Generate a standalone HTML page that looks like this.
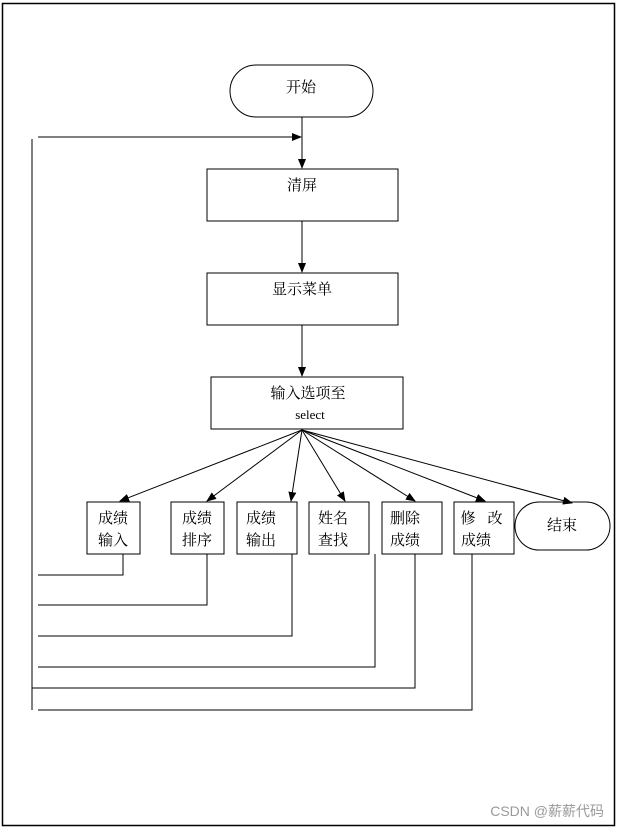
<!DOCTYPE html>
<html><head><meta charset="utf-8"><style>
html,body{margin:0;padding:0;background:#fff;}
svg text{font-family:"Liberation Serif","Noto Serif CJK SC","Noto Sans CJK SC",serif;font-size:15px;fill:#000;}
</style></head><body>
<svg width="618" height="829" xmlns="http://www.w3.org/2000/svg">
<defs><marker id="a" markerWidth="10" markerHeight="8" refX="9" refY="4" orient="auto" markerUnits="userSpaceOnUse"><path d="M0,0 L10,4 L0,8 z" fill="#000"/></marker></defs>
<rect x="2.5" y="3.5" width="612" height="822" fill="none" stroke="#000" stroke-width="1.5"/>
<g stroke="#000" stroke-width="1" fill="none">
<rect x="230" y="65" width="143" height="52" rx="26"/>
<rect x="207" y="169" width="191" height="52"/>
<rect x="207" y="273" width="191" height="52"/>
<rect x="211" y="377" width="192" height="52"/>
<rect x="87" y="502" width="53" height="52"/>
<rect x="171" y="502" width="53" height="52"/>
<rect x="237" y="502" width="60" height="52"/>
<rect x="309" y="502" width="60" height="52"/>
<rect x="382" y="502" width="60" height="52"/>
<rect x="454" y="502" width="60" height="52"/>
<rect x="515" y="502" width="95" height="48" rx="24"/>
<line x1="302" y1="117" x2="302" y2="168" marker-end="url(#a)"/>
<line x1="38" y1="137" x2="301" y2="137" marker-end="url(#a)"/>
<line x1="302" y1="221" x2="302" y2="272" marker-end="url(#a)"/>
<line x1="302" y1="325" x2="302" y2="376" marker-end="url(#a)"/>
<line x1="302" y1="430" x2="120" y2="501" marker-end="url(#a)"/>
<line x1="302" y1="430" x2="207" y2="501" marker-end="url(#a)"/>
<line x1="302" y1="430" x2="291" y2="501" marker-end="url(#a)"/>
<line x1="302" y1="430" x2="345" y2="501" marker-end="url(#a)"/>
<line x1="302" y1="430" x2="415" y2="501" marker-end="url(#a)"/>
<line x1="302" y1="430" x2="485" y2="501" marker-end="url(#a)"/>
<line x1="302" y1="430" x2="572" y2="503" marker-end="url(#a)"/>
<line x1="32" y1="139" x2="32" y2="710"/>
<polyline points="123,554 123,575 38,575"/>
<polyline points="207,554 207,605 38,605"/>
<polyline points="292,554 292,636 38,636"/>
<polyline points="375,554 375,667 38,667"/>
<polyline points="415,554 415,688 32,688"/>
<polyline points="472,554 472,710 38,710"/>
</g>
<text x="301" y="92" text-anchor="middle">开始</text>
<text x="302" y="190" text-anchor="middle">清屏</text>
<text x="302" y="294" text-anchor="middle">显示菜单</text>
<text x="308" y="398" text-anchor="middle">输入选项至</text>
<text x="310" y="419" text-anchor="middle" style="font-size:13px">select</text>
<text x="113" y="523" text-anchor="middle">成绩</text><text x="113" y="545" text-anchor="middle">输入</text>
<text x="197" y="523" text-anchor="middle">成绩</text><text x="197" y="545" text-anchor="middle">排序</text>
<text x="261" y="523" text-anchor="middle">成绩</text><text x="261" y="545" text-anchor="middle">输出</text>
<text x="333" y="523" text-anchor="middle">姓名</text><text x="333" y="545" text-anchor="middle">查找</text>
<text x="405" y="523" text-anchor="middle">删除</text><text x="405" y="545" text-anchor="middle">成绩</text>
<text x="468" y="523" text-anchor="middle">修</text><text x="495" y="523" text-anchor="middle">改</text><text x="476" y="545" text-anchor="middle">成绩</text>
<text x="562" y="530" text-anchor="middle">结束</text>
<text x="604" y="816" text-anchor="end" style="font-family:'Liberation Sans','Noto Sans CJK SC',sans-serif;font-size:14px;fill:#999">CSDN @薪薪代码</text>
</svg>
</body></html>
